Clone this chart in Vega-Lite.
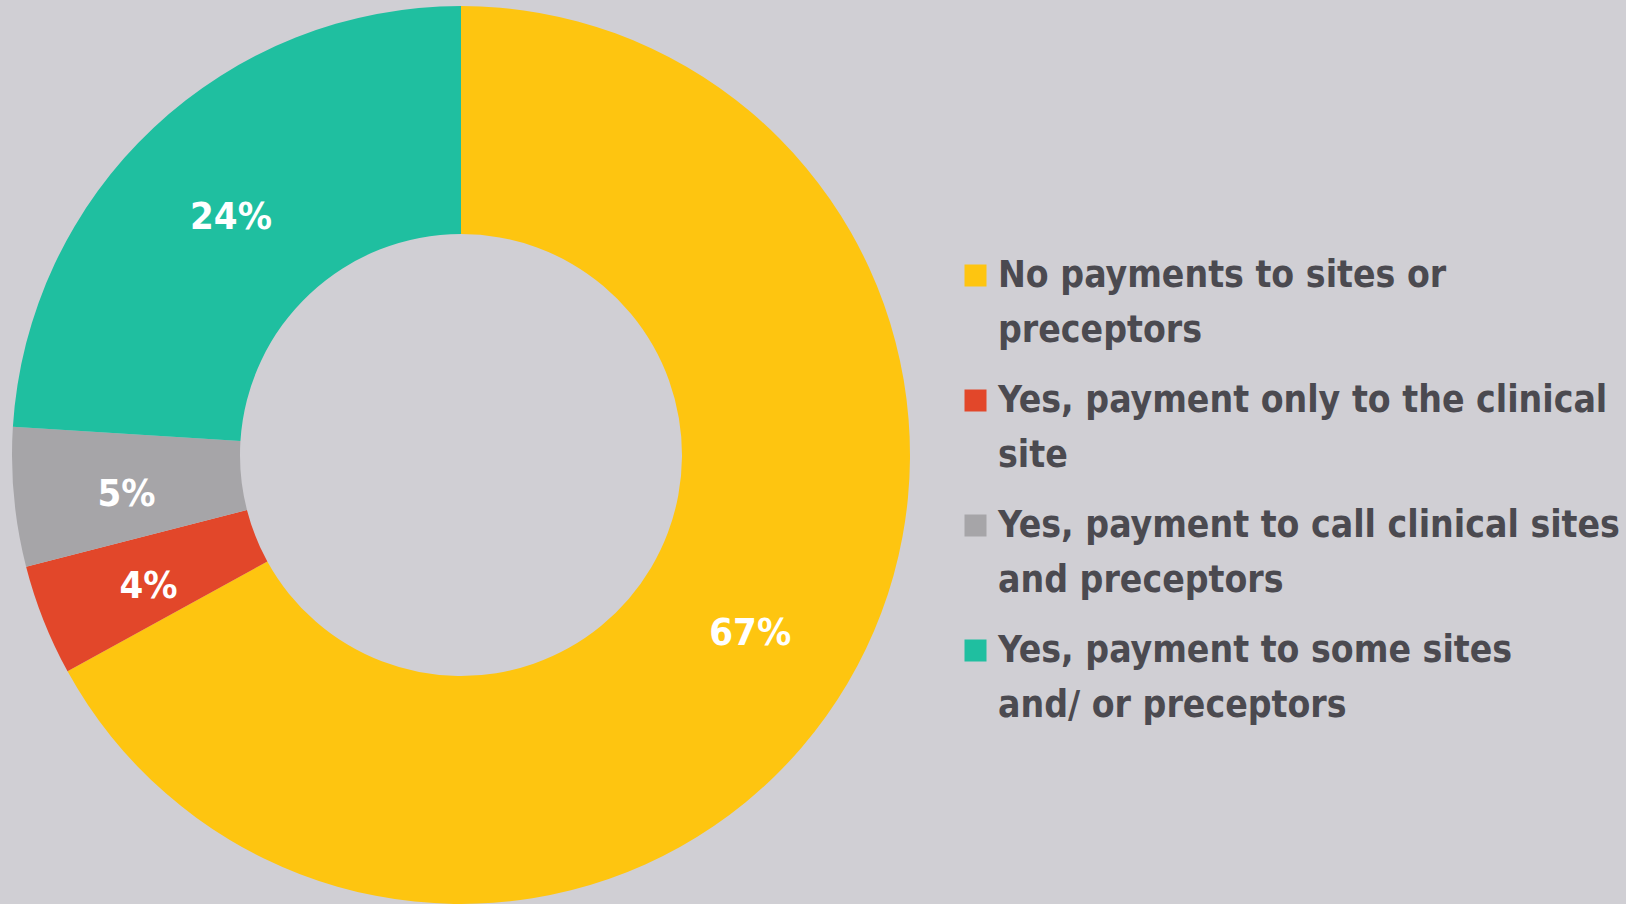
{
  "$schema": "https://vega.github.io/schema/vega-lite/v6.json",
  "width": 922,
  "height": 910,
  "padding": {"left": 0, "top": 0, "right": 704, "bottom": 0},
  "autosize": {"type": "none"},
  "background": "#D0CFD4",
  "config": {
    "view": {"stroke": null},
    "style": {"guide-label": {"lineHeight": 55}}
  },
  "data": {
    "values": [
      {"category": "No payments to sites or preceptors", "share": 0.67, "ord": 1},
      {"category": "Yes, payment only to the clinical site", "share": 0.04, "ord": 2},
      {"category": "Yes, payment to call clinical sites and preceptors", "share": 0.05, "ord": 3},
      {"category": "Yes, payment to some sites and/or preceptors", "share": 0.24, "ord": 4}
    ]
  },
  "encoding": {
    "theta": {"field": "share", "type": "quantitative", "stack": true},
    "order": {"field": "ord", "type": "quantitative"},
    "color": {
      "field": "category",
      "type": "nominal",
      "scale": {
        "domain": [
          "No payments to sites or preceptors",
          "Yes, payment only to the clinical site",
          "Yes, payment to call clinical sites and preceptors",
          "Yes, payment to some sites and/or preceptors"
        ],
        "range": ["#FEC510", "#E2472A", "#A6A5A8", "#1FBFA0"]
      },
      "legend": {
        "title": null,
        "orient": "none",
        "legendX": 957,
        "legendY": 257,
        "symbolType": "square",
        "symbolSize": 484,
        "symbolStrokeWidth": 0,
        "labelFont": "DejaVu Sans Condensed, Roboto, sans-serif",
        "labelFontWeight": "bold",
        "labelFontSize": 37,
        "labelColor": "#4B4A50",
        "labelLimit": 800,
        "labelOffset": 4,
        "rowPadding": 32,
        "encode": {
          "labels": {"enter": {"lineHeight": {"value": 55}}, "update": {"lineHeight": {"value": 55}}}
        },
        "labelExpr": "datum.value == 'No payments to sites or preceptors' ? ['No payments to sites or', 'preceptors'] : datum.value == 'Yes, payment only to the clinical site' ? ['Yes, payment only to the clinical', 'site'] : datum.value == 'Yes, payment to call clinical sites and preceptors' ? ['Yes, payment to call clinical sites', 'and preceptors'] : ['Yes, payment to some sites', 'and/ or preceptors']"
      }
    }
  },
  "layer": [
    {
      "mark": {"type": "arc", "radius": 449, "radius2": 221, "stroke": null}
    },
    {
      "mark": {
        "type": "text",
        "radius": 336,
        "dy": 8,
        "font": "DejaVu Sans Condensed, Roboto, sans-serif",
        "fontWeight": "bold",
        "fontSize": 38,
        "fill": "#FFFFFF",
        "align": "center",
        "baseline": "middle"
      },
      "encoding": {
        "text": {"field": "share", "type": "quantitative", "format": ".0%"},
        "color": {"value": "#FFFFFF"}
      }
    }
  ]
}
